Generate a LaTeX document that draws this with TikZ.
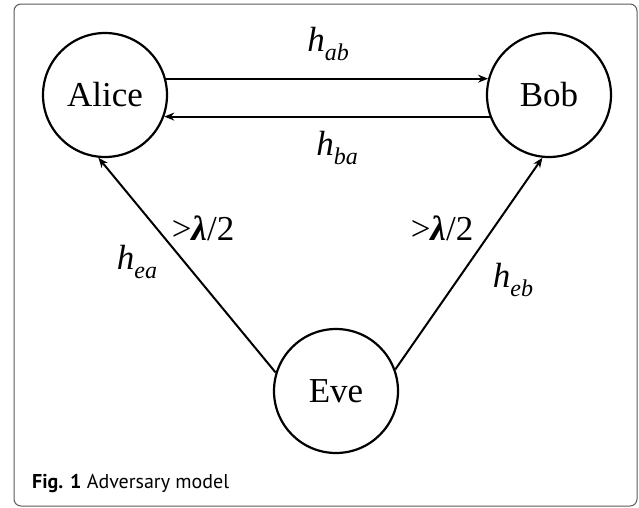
\documentclass[tikz,border=0pt]{standalone}
\usepackage{fontspec}
\setmainfont{Liberation Serif}[
    ItalicFont={Liberation Serif Italic},
    BoldItalicFont={Liberation Serif Bold Italic}]
\newfontfamily\captionfont{PT Sans}
\usetikzlibrary{arrows.meta}

\begin{document}
\begin{tikzpicture}[
    x=1pt, y=-1pt,
    >={Stealth[length=10pt,width=8pt]},
    party/.style={draw, circle, line width=2.2pt, minimum size=124pt, inner sep=0pt, font=\fontsize{35}{40}\selectfont},
    chan/.style={->, line width=2pt},
    chanlabel/.style={font=\fontsize{35}{40}\selectfont, inner sep=0pt}
]
    \useasboundingbox (0,0) rectangle (639,507);
    \draw[gray!70!black, line width=1pt, rounded corners=7pt] (14,4) rectangle (637,506);

    \node[party] (Alice) at (105,95) {Alice};
    \node[party] (Bob) at (549,95) {Bob};
    \node[party] (Eve) at (336,391) {Eve};

    \draw[chan] (Alice.15) -- (Bob.165);
    \draw[chan] (Bob.200) -- (Alice.-20);
    \draw[chan] (Eve.163) -- (Alice.264);
    \draw[chan] (Eve.20) -- (Bob.264);

    \node[chanlabel] (hab) at (328,44) {\textit{h}\raisebox{-0.25em}{\fontsize{24}{28}\selectfont\textit{ab}}};
    \node[chanlabel] (hba) at (337,148) {\textit{h}\raisebox{-0.25em}{\fontsize{24}{28}\selectfont\textit{ba}}};
    \node[chanlabel] (hea) at (137,262) {\textit{h}\raisebox{-0.25em}{\fontsize{24}{28}\selectfont\textit{ea}}};
    \node[chanlabel] (heb) at (513,280) {\textit{h}\raisebox{-0.25em}{\fontsize{24}{28}\selectfont\textit{eb}}};
    \node[chanlabel] (lama) at (203,228) {>\textbf{\textit{λ}}/2};
    \node[chanlabel] (lamb) at (442,228) {>\textbf{\textit{λ}}/2};

    \node[anchor=base west, inner sep=0pt, font=\captionfont\fontsize{20}{24}\selectfont] (caption) at (32,488) {\textbf{Fig. 1} Adversary model};
\end{tikzpicture}
\end{document}
